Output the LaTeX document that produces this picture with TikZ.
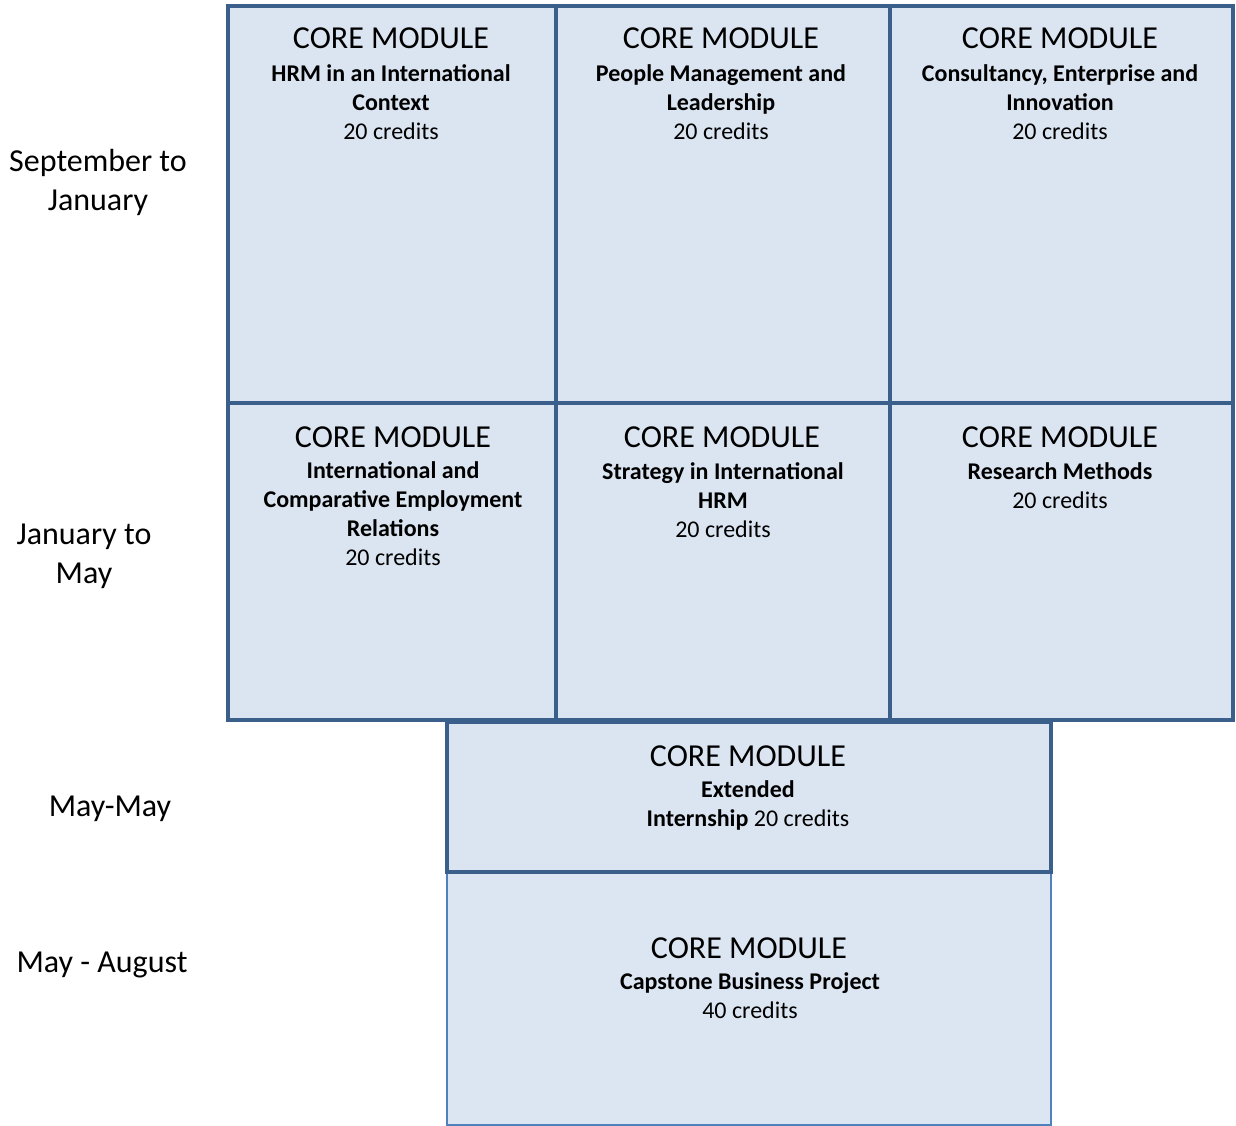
\documentclass[tikz,border=0pt]{standalone}
\usepackage{fontspec}
\setmainfont{Carlito}
\definecolor{boxfill}{HTML}{DBE5F1}
\definecolor{boxline}{HTML}{3A5F8B}
\definecolor{capfill}{HTML}{DCE6F2}
\definecolor{capline}{HTML}{4F81BD}
\begin{document}
\begin{tikzpicture}[x=1pt,y=-1pt,
  modbox/.style={draw=boxline, fill=boxfill, line width=4pt, inner sep=0pt, rectangle},
  capbox/.style={draw=capline, fill=capfill, line width=1.5pt, inner sep=0pt, rectangle},
  title/.style={anchor=base, inner sep=0pt, font=\fontsize{32}{38}\selectfont},
  body/.style={anchor=base, inner sep=0pt, align=center, font=\fontsize{24}{29}\selectfont},
  period/.style={anchor=base, inner sep=0pt, align=center, font=\fontsize{32}{39}\selectfont}
]
\useasboundingbox (0,0) rectangle (1236,1126);
% row 1
\node[modbox, minimum width=328pt, minimum height=397pt] (a1) at (392,204.5) {};
\node[modbox, minimum width=334pt, minimum height=397pt] (a2) at (723,204.5) {};
\node[modbox, minimum width=343pt, minimum height=397pt] (a3) at (1061.5,204.5) {};
% row 2
\node[modbox, minimum width=328pt, minimum height=317pt] (b1) at (392,561.5) {};
\node[modbox, minimum width=334pt, minimum height=317pt] (b2) at (723,561.5) {};
\node[modbox, minimum width=343pt, minimum height=317pt] (b3) at (1061.5,561.5) {};
% capstone and internship
\node[capbox, minimum width=604pt, minimum height=253pt] (d1) at (749,998.5) {};
\node[modbox, minimum width=604pt, minimum height=150pt] (c1) at (749,797) {};

% texts row 1 (body anchored at the baseline of its last line)
\node[title] (a1t) at (391,49) {CORE MODULE};
\node[body] (a1b) at (391,140) {\textbf{HRM in an International}\\\textbf{Context}\\20 credits};
\node[title] (a2t) at (721,49) {CORE MODULE};
\node[body] (a2b) at (721,140) {\textbf{People Management and}\\\textbf{Leadership}\\20 credits};
\node[title] (a3t) at (1060,49) {CORE MODULE};
\node[body] (a3b) at (1060,140) {\textbf{Consultancy, Enterprise and}\\\textbf{Innovation}\\20 credits};
% texts row 2
\node[title] (b1t) at (393,447) {CORE MODULE};
\node[body] (b1b) at (393,565) {\textbf{International and}\\\textbf{Comparative Employment}\\\textbf{Relations}\\20 credits};
\node[title] (b2t) at (722,447) {CORE MODULE};
\node[body] (b2b) at (723,537) {\textbf{Strategy in International}\\\textbf{HRM}\\20 credits};
\node[title] (b3t) at (1060,447) {CORE MODULE};
\node[body] (b3b) at (1060,508) {\textbf{Research Methods}\\20 credits};
% internship
\node[title] (c1t) at (748,766) {CORE MODULE};
\node[body] (c1b) at (748,826) {\textbf{Extended}\\\textbf{Internship} 20 credits};
% capstone
\node[title] (d1t) at (749,958) {CORE MODULE};
\node[body] (d1b) at (750,1018) {\textbf{Capstone Business Project}\\40 credits};

% periods
\node[period] (p1) at (98,211) {September to\\January};
\node[period] (p2) at (84,583) {January to\\May};
\node[period] (p3) at (110,816) {May-May};
\node[period] (p4) at (102,972) {May - August};
\end{tikzpicture}
\end{document}
